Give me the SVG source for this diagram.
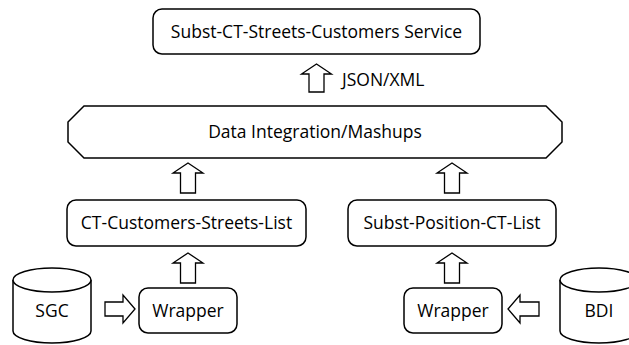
<svg xmlns="http://www.w3.org/2000/svg" width="629" height="345" viewBox="0 0 629 345">
  <style>
    .shape { fill: #ffffff; stroke: #000000; stroke-width: 1.5; }
    .arrow { fill: #ffffff; stroke: #000000; stroke-width: 1.3; stroke-linejoin: miter; }
    .label { font-family: "Open Sans", "Liberation Sans", Arial, sans-serif; font-size: 17.5px; fill: #000000; text-anchor: middle; }
    .side { text-anchor: start; }
  </style>
  <rect width="629" height="345" fill="#ffffff"/>
  <g id="connectors">
    <polygon class="arrow" points="316.5,64 331.5,74 324,74 324,92 309,92 309,74 301.5,74"/>
    <polygon class="arrow" points="188,163 203,173 195.5,173 195.5,193 180.5,193 180.5,173 173,173"/>
    <polygon class="arrow" points="452,163 467,173 459.5,173 459.5,193 444.5,193 444.5,173 437,173"/>
    <polygon class="arrow" points="188,253 203,263 195.5,263 195.5,283 180.5,283 180.5,263 173,263"/>
    <polygon class="arrow" points="452,253 467,263 459.5,263 459.5,283 444.5,283 444.5,263 437,263"/>
    <polygon class="arrow" points="135,309 123,295 123,302 105,302 105,316 123,316 123,323"/>
    <polygon class="arrow" points="508,309 520,295 520,302 539,302 539,316 520,316 520,323"/>
  </g>
  <text class="label side" x="342" y="86">JSON/XML</text>
  <g id="service">
    <rect class="shape" x="153" y="9" width="327" height="45" rx="9"/>
    <text class="label" x="316.5" y="38">Subst-CT-Streets-Customers Service</text>
  </g>
  <g id="mashups">
    <polygon class="shape" points="84,106 546,106 562,122 562,142 546,158 84,158 68,142 68,122"/>
    <text class="label" x="315" y="138">Data Integration/Mashups</text>
  </g>
  <g id="ct-customers-streets-list">
    <rect class="shape" x="67" y="200" width="239" height="46" rx="9"/>
    <text class="label" x="186.5" y="229">CT-Customers-Streets-List</text>
  </g>
  <g id="subst-position-ct-list">
    <rect class="shape" x="348" y="200" width="208" height="46" rx="9"/>
    <text class="label" x="452" y="229">Subst-Position-CT-List</text>
  </g>
  <g id="wrapper-left">
    <rect class="shape" x="139" y="288" width="98" height="45" rx="9"/>
    <text class="label" x="188" y="317">Wrapper</text>
  </g>
  <g id="wrapper-right">
    <rect class="shape" x="404" y="288" width="98" height="45" rx="9"/>
    <text class="label" x="453" y="317">Wrapper</text>
  </g>
  <g id="sgc">
    <path class="shape" d="M13,280 A39,12 0 0 1 91,280 L91,331 A39,12 0 0 1 13,331 Z"/>
    <path class="shape" fill="none" d="M13,280 A39,12 0 0 0 91,280"/>
    <text class="label" x="52" y="317">SGC</text>
  </g>
  <g id="bdi">
    <path class="shape" d="M560,280 A39,12 0 0 1 638,280 L638,331 A39,12 0 0 1 560,331 Z"/>
    <path class="shape" fill="none" d="M560,280 A39,12 0 0 0 638,280"/>
    <text class="label" x="599" y="317">BDI</text>
  </g>
</svg>
